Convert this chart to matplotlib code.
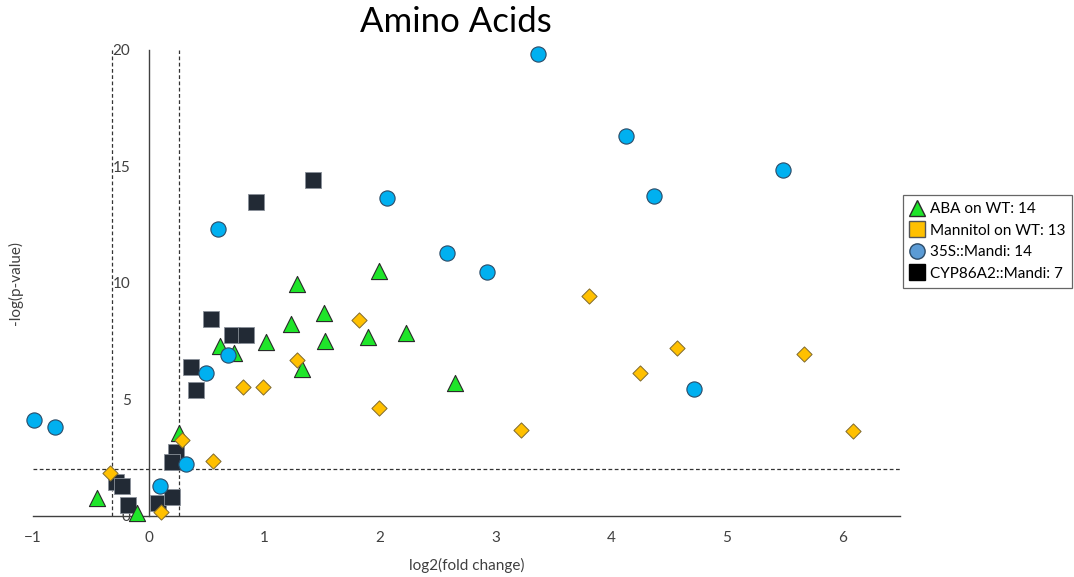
import matplotlib

matplotlib.use("Agg")
import matplotlib.pyplot as plt
from matplotlib.lines import Line2D

plt.rcParams["font.family"] = ["Lato", "DejaVu Sans"]

# log2(fold change), -log(p-value) for each treatment
aba_x = [1.99, 1.28, 1.52, 1.23, 2.23, 1.90, 1.02, 1.53, 0.62, 0.74,
         1.33, 2.65, 0.26, -0.45, -0.10]
aba_y = [10.51, 9.94, 8.68, 8.22, 7.82, 7.68, 7.46, 7.48, 7.29, 6.99,
         6.28, 5.68, 3.56, 0.75, 0.13]

mannitol_x = [3.81, 1.82, 4.57, 5.67, 1.28, 4.25, 0.82, 0.99, 1.99, 3.22,
              6.09, 0.29, 0.56, -0.33, 0.11]
mannitol_y = [9.42, 8.39, 7.19, 6.93, 6.68, 6.12, 5.53, 5.51, 4.62, 3.68,
              3.63, 3.26, 2.36, 1.82, 0.16]

mandi35s_x = [3.37, 4.13, 5.49, 4.37, 2.06, 0.60, 2.58, 2.93, 0.69, 0.50,
              4.72, -0.99, -0.81, 0.32, 0.10]
mandi35s_y = [19.80, 16.28, 14.82, 13.71, 13.63, 12.31, 11.28, 10.45, 6.90,
              6.13, 5.43, 4.09, 3.79, 2.22, 1.27]

cyp_x = [1.42, 0.93, 0.54, 0.72, 0.84, 0.37, 0.41, 0.24, 0.20, -0.28,
         -0.23, -0.18, 0.08, 0.20]
cyp_y = [14.40, 13.44, 8.46, 7.76, 7.74, 6.36, 5.39, 2.74, 2.29, 1.46,
         1.29, 0.46, 0.53, 0.79]

legend_labels = ["ABA on WT: 14", "Mannitol on WT: 13",
                 "35S::Mandi: 14", "CYP86A2::Mandi: 7"]

fc_low, fc_high = -0.32, 0.263   # log2(0.8), log2(1.2)
p_cut = 2.0

fig = plt.figure(figsize=(10.74, 5.77), dpi=100)
ax = fig.add_axes([0.0307, 0.1062, 0.8073, 0.8080])

ax.set_xlim(-1, 6.5)
ax.set_ylim(0, 20)

# cut-off lines
ax.axvline(fc_low, color="#333333", ls=(0, (3, 2)), lw=0.9, zorder=1)
ax.axvline(fc_high, color="#333333", ls=(0, (3, 2)), lw=0.9, zorder=1)
ax.axhline(p_cut, color="#333333", ls=(0, (3, 2)), lw=0.9, zorder=1)

ax.scatter(cyp_x, cyp_y, marker="s", s=120, color="#222a35",
           edgecolors="#8a9099", linewidths=0.6, zorder=3, clip_on=False)
ax.scatter(aba_x, aba_y, marker="^", s=135, color="#1fe52a",
           edgecolors="#2a2a2a", linewidths=0.8, zorder=4, clip_on=False)
ax.scatter(mandi35s_x, mandi35s_y, marker="o", s=120, color="#00b0f0",
           edgecolors="#2c4a66", linewidths=0.8, zorder=5, clip_on=False)
ax.scatter(mannitol_x, mannitol_y, marker="D", s=60, color="#ffc000",
           edgecolors="#7f6a30", linewidths=0.7, zorder=6, clip_on=False)

# axes cross at the origin
for side in ("top", "right"):
    ax.spines[side].set_visible(False)
ax.spines["left"].set_position(("data", 0))
ax.spines["left"].set_color("#404040")
ax.spines["bottom"].set_color("#404040")
ax.spines["left"].set_linewidth(1.0)
ax.spines["bottom"].set_linewidth(1.0)

ax.set_xticks(range(-1, 7))
ax.set_yticks(range(0, 21, 5))
ax.tick_params(axis="both", length=0, labelsize=11, colors="#404040")
ax.tick_params(axis="y", pad=13)
ax.tick_params(axis="x", pad=11)

ax.set_xlabel("log2(fold change)", fontsize=11, color="#404040", labelpad=9)
fig.text(0.014, 0.51, "-log(p-value)", rotation=90, fontsize=11,
         color="#404040", ha="center", va="center")
fig.text(0.424, 0.962, "Amino Acids", fontsize=25, ha="center", va="center")

handles = [
    Line2D([], [], ls="", marker="^", ms=11, mfc="#1fe52a", mec="#2a2a2a"),
    Line2D([], [], ls="", marker="s", ms=11, mfc="#ffc000", mec="#555555"),
    Line2D([], [], ls="", marker="o", ms=11, mfc="#5b9bd5", mec="#2c4a66"),
    Line2D([], [], ls="", marker="s", ms=11, mfc="#000000", mec="#000000"),
]
leg = fig.legend(handles, legend_labels, loc="upper left",
                 bbox_to_anchor=(0.8408, 0.662), fontsize=11,
                 frameon=True, fancybox=False, handlelength=0.9,
                 handletextpad=0.4, labelspacing=0.5, borderpad=0.45,
                 borderaxespad=0)
leg.get_frame().set_edgecolor("#404040")
leg.get_frame().set_linewidth(0.9)

fig.savefig("out.png", dpi=100)
